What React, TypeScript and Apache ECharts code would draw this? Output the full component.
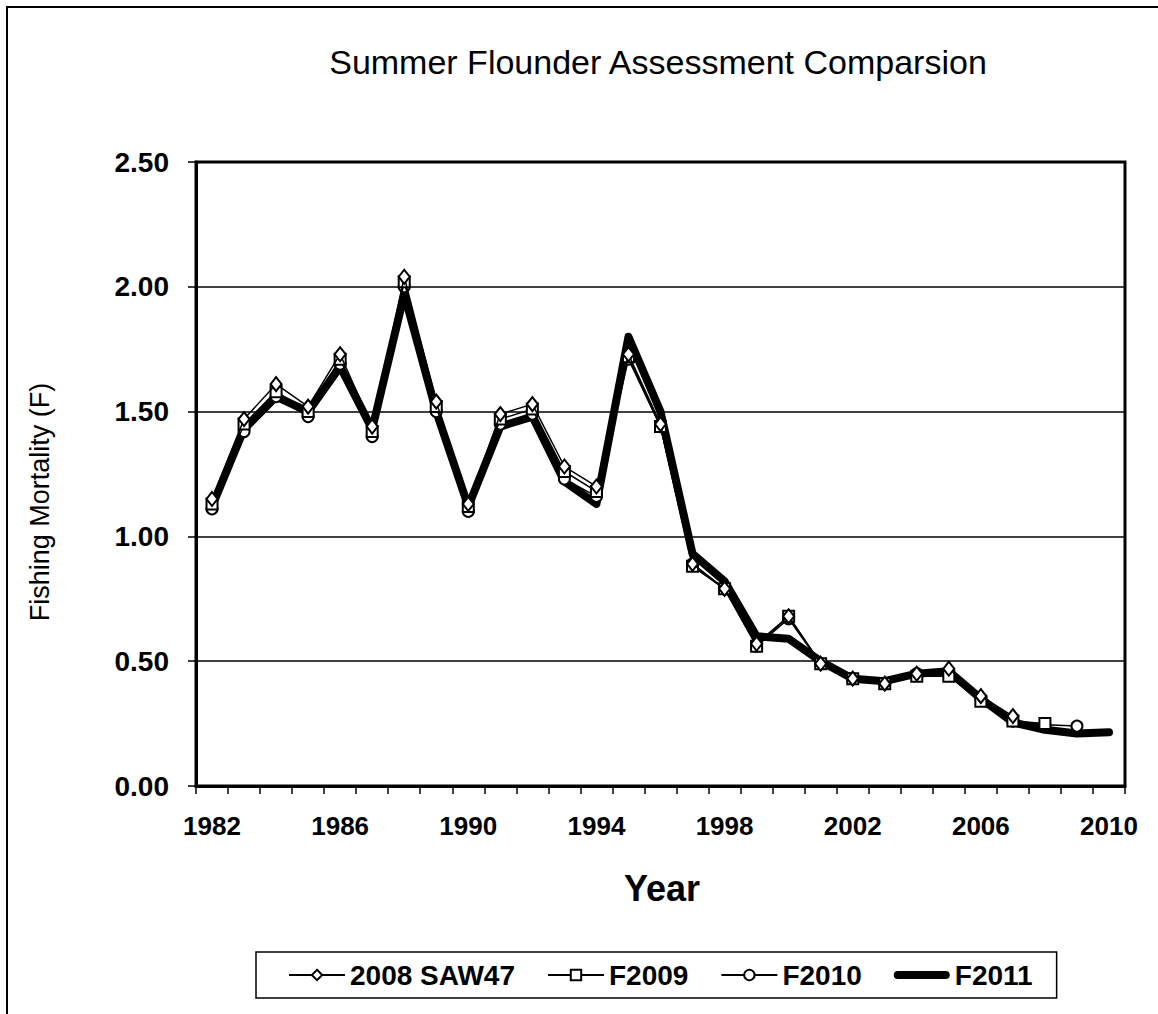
import React, { useEffect, useRef } from "react";
import * as echarts from "echarts";

const years = [
  "1982", "1983", "1984", "1985", "1986", "1987", "1988", "1989", "1990", "1991",
  "1992", "1993", "1994", "1995", "1996", "1997", "1998", "1999", "2000", "2001",
  "2002", "2003", "2004", "2005", "2006", "2007", "2008", "2009", "2010",
];

const saw47 = [
  1.15, 1.47, 1.61, 1.52, 1.73, 1.44, 2.04, 1.54, 1.13, 1.49,
  1.53, 1.28, 1.2, 1.73, 1.45, 0.89, 0.79, 0.57, 0.68, 0.49,
  0.43, 0.41, 0.45, 0.47, 0.36, 0.28,
];

const f2009 = [
  1.13, 1.45, 1.58, 1.5, 1.71, 1.42, 2.02, 1.52, 1.12, 1.47,
  1.51, 1.26, 1.18, 1.72, 1.44, 0.88, 0.79, 0.56, 0.68, 0.49,
  0.43, 0.41, 0.44, 0.44, 0.34, 0.26, 0.25,
];

const f2010 = [
  1.11, 1.42, 1.56, 1.48, 1.69, 1.4, 2.0, 1.5, 1.1, 1.45,
  1.49, 1.23, 1.16, 1.71, 1.44, 0.89, 0.79, 0.56, 0.67, 0.49,
  0.43, 0.41, 0.45, 0.45, 0.35, 0.26, 0.245, 0.24,
];

const f2011 = [
  1.12, 1.43, 1.56, 1.5, 1.68, 1.43, 1.97, 1.5, 1.12, 1.44,
  1.48, 1.22, 1.13, 1.8, 1.5, 0.93, 0.82, 0.6, 0.59, 0.5,
  0.43, 0.42, 0.45, 0.46, 0.35, 0.255, 0.225, 0.21, 0.215,
];

const seriesNames = ["2008 SAW47", "F2009", "F2010", "F2011"];

const FONT = "'Liberation Sans', Arial, Helvetica, sans-serif";

export default function App() {
  const ref = useRef<HTMLDivElement>(null);

  useEffect(() => {
    const chart = echarts.init(ref.current!, null, { renderer: "svg" });
    const thin = (name: string, data: number[], symbol: string, size: any, z: number) => ({
      name,
      type: "line",
      data,
      symbol,
      symbolSize: size,
      showSymbol: true,
      z,
      lineStyle: { color: "#000", width: 1.5 },
      itemStyle: { color: "#000", borderColor: "#000", borderWidth: 1.5 },
    });
    chart.setOption({
      animation: false,
      backgroundColor: "#fff",
      title: {
        text: "Summer Flounder Assessment Comparsion",
        left: 653,
        top: 40,
        textAlign: "center",
        textStyle: { fontFamily: FONT, fontSize: 34, fontWeight: "normal", color: "#000" },
      },
      grid: {
        left: 196,
        top: 162,
        right: 33,
        bottom: 228,
        show: true,
        borderColor: "#000",
        borderWidth: 3,
        backgroundColor: "transparent",
      },
      legend: {
        left: 256,
        top: 952,
        orient: "horizontal",
        padding: [8, 24, 8, 32],
        itemGap: 32,
        itemWidth: 56,
        itemHeight: 13,
        borderColor: "#000",
        borderWidth: 1.5,
        borderRadius: 0,
        textStyle: { fontFamily: FONT, fontSize: 28, fontWeight: "bold", color: "#000", lineHeight: 30 },
        data: [
          { name: seriesNames[0] },
          { name: seriesNames[1] },
          { name: seriesNames[2] },
          {
            name: seriesNames[3],
            icon: "path://M4,0L52,0A4,4,0,0,1,52,8L4,8A4,4,0,0,1,4,0Z",
            itemStyle: { color: "#000", borderWidth: 0 },
          },
        ],
      },
      xAxis: {
        type: "category",
        data: years,
        boundaryGap: true,
        axisLine: { show: true, lineStyle: { color: "#000", width: 3 } },
        axisTick: { show: true, interval: 0, length: 8, lineStyle: { color: "#000", width: 1.5 } },
        axisLabel: {
          interval: 3,
          margin: 27,
          fontFamily: FONT,
          fontSize: 26,
          fontWeight: "bold",
          color: "#000",
        },
        splitLine: { show: false },
      },
      yAxis: {
        type: "value",
        min: 0,
        max: 2.5,
        interval: 0.5,
        axisLine: { show: true, lineStyle: { color: "#000", width: 3 } },
        axisTick: { show: true, length: 8, lineStyle: { color: "#000", width: 1.5 } },
        axisLabel: {
          margin: 27,
          fontFamily: FONT,
          fontSize: 28,
          fontWeight: "bold",
          color: "#000",
          formatter: (v: number) => v.toFixed(2),
        },
        splitLine: { show: true, lineStyle: { color: "#000", width: 1.5 } },
      },
      graphic: [
        {
          type: "rect",
          silent: true,
          z: -10,
          shape: { x: 7, y: 7, width: 1300, height: 1200 },
          style: { fill: "none", stroke: "#000", lineWidth: 2 },
        },
        {
          type: "text",
          x: 40,
          y: 502,
          rotation: Math.PI / 2,
          style: {
            text: "Fishing Mortality (F)",
            fontFamily: FONT,
            fontSize: 27,
            fontWeight: "normal",
            fill: "#000",
            textAlign: "center",
            textVerticalAlign: "middle",
          },
        },
        {
          type: "text",
          x: 662,
          y: 888,
          style: {
            text: "Year",
            fontFamily: FONT,
            fontSize: 36,
            fontWeight: "bold",
            fill: "#000",
            textAlign: "center",
            textVerticalAlign: "middle",
          },
        },
      ],
      series: [
        thin(seriesNames[0], saw47, "emptyDiamond", [11, 14], 5),
        thin(seriesNames[1], f2009, "emptyRect", 11, 4),
        thin(seriesNames[2], f2010, "emptyCircle", 11, 3),
        {
          name: seriesNames[3],
          type: "line",
          data: f2011,
          symbol: "none",
          z: 2,
          lineStyle: { color: "#000", width: 8, cap: "round", join: "round" },
          itemStyle: { color: "#000" },
        },
      ],
    });
    return () => chart.dispose();
  }, []);

  return (
    <div
      ref={ref}
      style={{ position: "absolute", left: 0, top: 0, width: 1158, height: 1014, background: "#fff" }}
    />
  );
}
